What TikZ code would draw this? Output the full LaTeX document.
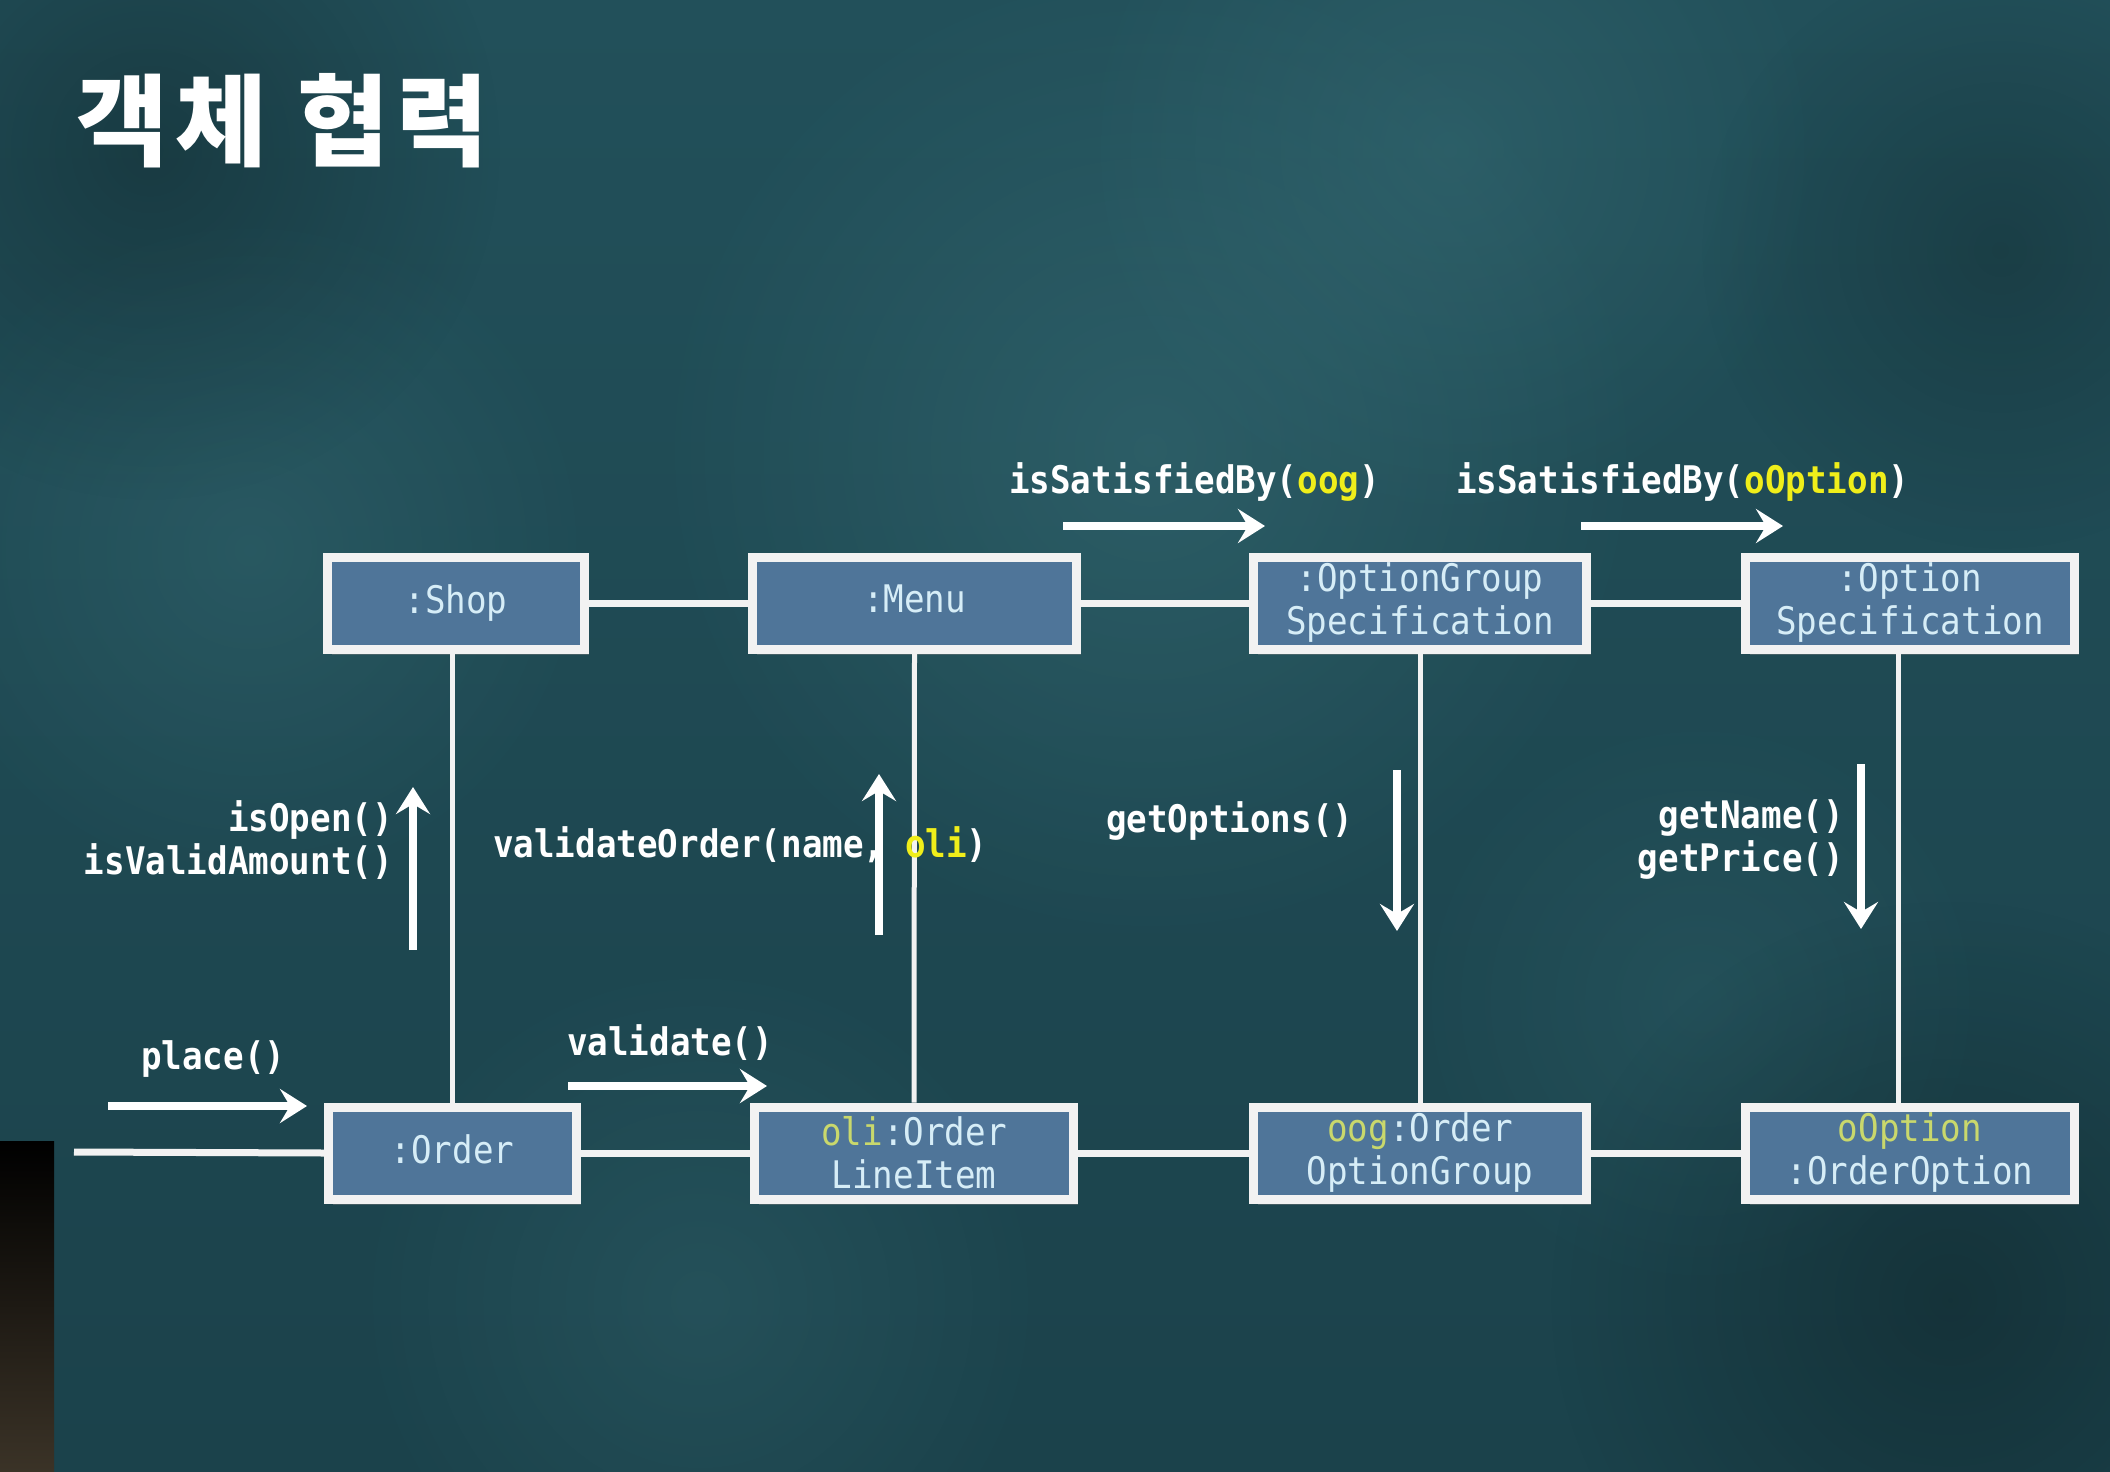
\documentclass[tikz,border=0pt]{standalone}
\usepackage{fontspec}
\usetikzlibrary{arrows.meta,fadings,shadows}
\tikzfading[name=blobfade, inner color=transparent!0, outer color=transparent!100]
\newfontfamily\cjkfont[LetterSpace=7]{Noto Sans CJK KR}
\newfontfamily\boxfont[FakeStretch=0.9]{DejaVu Sans Mono}
\newfontfamily\lblfont[FakeStretch=0.9]{DejaVu Sans Mono}
\definecolor{bgtop}{HTML}{22505A}
\definecolor{bgbot}{HTML}{1B424B}
\definecolor{bglight}{HTML}{3F7880}
\definecolor{boxblue}{HTML}{4F7599}
\definecolor{boxtext}{HTML}{D6EDF7}
\definecolor{boxyel}{HTML}{C9D86C}
\definecolor{lblyel}{HTML}{F0EE1A}
\definecolor{linewhite}{HTML}{F2F2F2}
\definecolor{darkbrown}{HTML}{3B3327}
\tikzset{
  obj/.style={draw=linewhite, line width=9pt, fill=boxblue, minimum height=92pt,
    text=boxtext, font=\boxfont\fontsize{38}{43}\selectfont, align=center, inner sep=0pt,
    drop shadow={opacity=0.4, shadow xshift=4pt, shadow yshift=-6pt}},
  lbl/.style={text=white, font=\lblfont\bfseries\fontsize{38}{43}\selectfont, inner sep=0pt},
  msg/.style={draw=white, line width=7.5pt, -{Stealth[length=27pt,width=34pt,inset=10pt]}},
  link/.style={draw=linewhite, line width=7pt},
  vlink/.style={draw=linewhite, line width=5pt},
  blob/.style={path fading=blobfade}
}
\begin{document}
\begin{tikzpicture}[x=1pt,y=-1pt]
\useasboundingbox (0,0) rectangle (2110,1472);
% background
\shade[top color=bgtop, bottom color=bgbot] (0,0) rectangle (2110,1472);
\fill[bglight, blob, opacity=0.4] (1150,450) circle (500);
\fill[bglight, blob, opacity=0.35] (1450,150) circle (380);
\fill[bglight, blob, opacity=0.3] (250,550) circle (350);
\fill[bglight, blob, opacity=0.25] (700,1300) circle (350);
\fill[bglight, blob, opacity=0.2] (1700,1000) circle (300);
\fill[black, blob, opacity=0.25] (150,150) circle (350);
\fill[black, blob, opacity=0.25] (1950,1300) circle (400);
\fill[black, blob, opacity=0.2] (2000,250) circle (300);
\shade[top color=black, bottom color=darkbrown] (0,1141) rectangle (54,1472);
% title
\node[anchor=west, text=white, font=\cjkfont\bfseries\fontsize{100}{110}\selectfont, inner sep=0pt] (title) at (76,121) {객체 협력};
% objects
\node[obj, minimum width=257pt] (shop) at (456,603) {:Shop};
\node[obj, minimum width=324pt] (menu) at (914.5,603) {\vphantom{p}:Menu};
\node[obj, minimum width=333pt] (ogs) at (1420,603) {:OptionGroup\\Specification};
\node[obj, minimum width=329pt] (os) at (1910,603) {:Option\\Specification};
\node[obj, minimum width=248pt] (order) at (452.5,1153) {\vphantom{p}:Order};
\node[obj, minimum width=319pt] (oli) at (914,1153) {\textcolor{boxyel}{oli}:Order\\LineItem};
\node[obj, minimum width=333pt] (oog) at (1420,1153) {\textcolor{boxyel}{oog}:Order\\OptionGroup};
\node[obj, minimum width=329pt] (oopt) at (1910,1153) {\textcolor{boxyel}{oOption}\\:OrderOption};
% links
\coordinate (in) at (74,1152);
\draw[link] (in) -- (order.west);
\draw[link] (order.east) -- (oli.west);
\draw[link] (oli.east) -- (oog.west);
\draw[link] (oog.east) -- (oopt.west);
\draw[link] (shop.east) -- (menu.west);
\draw[link] (menu.east) -- (ogs.west);
\draw[link] (ogs.east) -- (os.west);
\draw[vlink] (shop.south -| order.north) -- (order.north);
\draw[vlink] (menu.south) -- (oli.north);
\draw[vlink] (ogs.south) -- (oog.north);
\draw[vlink] ([xshift=-12pt]os.south) -- ([xshift=-12pt]oopt.north);
% messages
\coordinate (p1) at (108,1106); \coordinate (p2) at (307,1106);
\draw[msg] (p1) -- (p2);
\node[lbl, anchor=west] (lplace) at (141,1059) {place()};
\coordinate (v1) at (568,1086); \coordinate (v2) at (767,1086);
\draw[msg] (v1) -- (v2);
\node[lbl, anchor=west] (lvalidate) at (567,1043) {validate()};
\coordinate (o1) at (413,950); \coordinate (o2) at (413,787);
\draw[msg] (o1) -- (o2);
\node[lbl, anchor=east, align=right] (lopen) at (393,840) {isOpen()\\isValidAmount()};
\node[lbl, anchor=west] (lvord) at (493,845) {validateOrder(name, \textcolor{lblyel}{oli})};
\coordinate (m1) at (879,935); \coordinate (m2) at (879,774);
\draw[msg] (m1) -- (m2);
\coordinate (g1) at (1397,770); \coordinate (g2) at (1397,931);
\draw[msg] (g1) -- (g2);
\node[lbl, anchor=west] (lgetopt) at (1106,821) {getOptions()};
\coordinate (n1) at (1861,764); \coordinate (n2) at (1861,929);
\draw[msg] (n1) -- (n2);
\node[lbl, anchor=east, align=right] (lgetname) at (1844,840) {getName()\\getPrice()};
\coordinate (s1) at (1063,526); \coordinate (s2) at (1265,526);
\draw[msg] (s1) -- (s2);
\node[lbl, anchor=west] (lsat1) at (1009,482) {isSatisfiedBy(\textcolor{lblyel}{oog})};
\coordinate (t1) at (1581,526); \coordinate (t2) at (1783,526);
\draw[msg] (t1) -- (t2);
\node[lbl, anchor=west] (lsat2) at (1456,482) {isSatisfiedBy(\textcolor{lblyel}{oOption})};
\end{tikzpicture}
\end{document}
